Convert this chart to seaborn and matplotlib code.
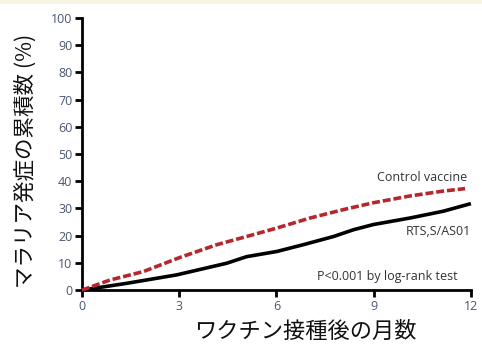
import matplotlib
matplotlib.use("Agg")
import matplotlib.pyplot as plt
import seaborn as sns
import pandas as pd
from matplotlib.patches import Rectangle

# Cumulative incidence of clinical malaria (%) by months after vaccination
control_months = [0, 0.86, 1.89, 3.02, 4.16, 5.08, 6.01, 7.04, 8.07, 8.99, 10.12, 11.15, 11.82]
control_pct = [0, 3.7, 6.8, 12.0, 16.7, 19.7, 22.8, 26.5, 29.6, 32.1, 34.6, 36.4, 37.3]

rts_months = [0, 1.38, 2.92, 4.47, 5.08, 6.01, 6.83, 7.76, 8.38, 8.99, 10.12, 11.15, 12.0]
rts_pct = [0, 2.5, 5.6, 9.9, 12.3, 14.2, 16.7, 19.7, 22.2, 24.1, 26.5, 29.0, 31.8]

groups = ["Control vaccine", "RTS,S/AS01"]
x_ticks = [0, 3, 6, 9, 12]
y_ticks = list(range(0, 101, 10))

df = pd.DataFrame({
    "month": control_months + rts_months,
    "pct": control_pct + rts_pct,
    "group": [groups[0]] * len(control_months) + [groups[1]] * len(rts_months),
})

sns.set_style("ticks")
plt.rcParams["font.family"] = ["Open Sans", "Noto Sans CJK JP", "DejaVu Sans"]

fig = plt.figure(figsize=(4.82, 3.45), dpi=100)
fig.patch.set_facecolor("white")
fig.patches.append(Rectangle((0, 0.988), 1, 0.012, transform=fig.transFigure,
                             facecolor="#f8f4e2", edgecolor="none", zorder=0))
ax = fig.add_axes([0.170, 0.159, 0.807, 0.789])

sns.lineplot(data=df, x="month", y="pct", hue="group", style="group",
             palette={groups[0]: "#b5272d", groups[1]: "#000000"},
             dashes={groups[0]: (2.2, 0.8), groups[1]: ""},
             linewidth=2.6, legend=False, ax=ax, estimator=None, sort=True)
for ln in ax.lines:
    ln.set_clip_on(False)
    ln.set_solid_capstyle("butt")
# Keep the dashed line on top where the two curves meet at the origin
ax.lines[1].set_zorder(2)
ax.lines[0].set_zorder(3)

ax.set_xlim(0, 12)
ax.set_ylim(0, 100)
ax.set_xticks(x_ticks)
ax.set_yticks(y_ticks)
ax.set_xticklabels([str(t) for t in x_ticks])
ax.set_yticklabels([str(t) for t in y_ticks])
ax.tick_params(axis="both", direction="out", length=5, width=2, color="black",
               labelsize=9, labelcolor="#4a5670", pad=2)
for side in ["left", "bottom"]:
    ax.spines[side].set_linewidth(2)
    ax.spines[side].set_color("black")
sns.despine(ax=ax)

cjk = ["Noto Sans CJK JP", "DejaVu Sans"]
ax.set_xlabel("ワクチン接種後の月数", fontsize=16, family=cjk, color="#111111")
ax.set_ylabel("マラリア発症の累積数 (%)", fontsize=15.5, family=cjk, color="#111111")
ax.xaxis.set_label_coords(0.573, -0.11)
ax.yaxis.set_label_coords(-0.115, 0.475)

txt_color = "#333333"
ax.text(11.9, 41.5, "Control vaccine", ha="right", va="center", fontsize=9, color=txt_color)
ax.text(12.0, 21.5, "RTS,S/AS01", ha="right", va="center", fontsize=9, color=txt_color)
ax.text(11.6, 5.0, "P<0.001 by log-rank test", ha="right", va="center", fontsize=9, color=txt_color)

fig.savefig("out.png", dpi=100)
